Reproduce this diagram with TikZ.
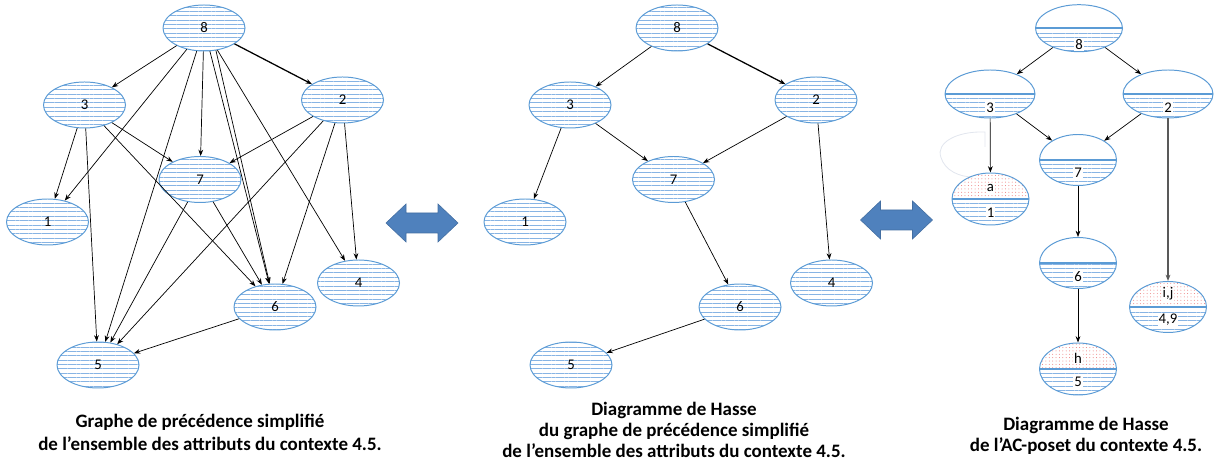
\documentclass[tikz,border=0pt]{standalone}
\usepackage{fontspec}
\setmainfont{Carlito}
\usetikzlibrary{shapes.geometric,arrows.meta,patterns.meta}

\definecolor{attrblue}{RGB}{91,155,213}
\definecolor{hatchblue}{RGB}{135,180,228}
\definecolor{dotred}{RGB}{236,120,120}
\definecolor{arrowblue}{RGB}{79,129,189}
\definecolor{ghostgray}{RGB}{226,230,238}

\tikzset{
  attr/.style={ellipse, draw=attrblue, line width=0.7pt, inner sep=0pt,
    minimum width=2.05cm, minimum height=1.15cm,
    pattern={Lines[angle=0,distance=3.1pt,line width=0.6pt]}, pattern color=hatchblue,
    font=\fontsize{10.5}{12}\selectfont},
  noobj/.style={fill=white},
  objdots/.style={pattern={Dots[distance=2.4pt,radius=0.35pt]}, pattern color=dotred},
  concept/.style={ellipse, draw=attrblue, line width=0.7pt, inner sep=0pt,
    minimum width=1.925cm, minimum height=1.275cm,
    path picture={
      \fill[#1] (path picture bounding box.north west) rectangle (path picture bounding box.east);
      \fill[pattern={Lines[angle=0,distance=3.1pt,line width=0.6pt]}, pattern color=hatchblue]
        (path picture bounding box.west) rectangle (path picture bounding box.south east);
      \draw[attrblue, line width=1.3pt] (path picture bounding box.west) -- (path picture bounding box.east);
    }},
  concept/.default=noobj,
  intent/.style={fill=white, inner sep=0.8pt, font=\fontsize{10.5}{12}\selectfont},
  prec/.style={-{Stealth[length=4.5pt,width=3.4pt]}, line width=0.5pt},
  bigarrow/.style={fill=arrowblue, draw=arrowblue!85!black, line width=0.4pt},
  legend/.style={font=\fontsize{13.5}{15}\selectfont\bfseries, align=center},
}

\begin{document}
\begin{tikzpicture}
\useasboundingbox (0,0) rectangle (30.425,11.725);

%%%%%%%%%%%%%%%%%Graphe de precedence%%%%%%%%%%%%%%
\node[attr] (l8) at (5.1,11.025){8};
\node[attr] (l3) at (2.1125,9.1){3};
\node[attr] (l2) at (8.5625,9.225){2};
\node[attr] (l7) at (5.0,7.2375){7};
\node[attr] (l1) at (1.1875,6.175){1};
\node[attr] (l4) at (8.9625,4.65){4};
\node[attr] (l6) at (6.875,4.05){6};
\node[attr] (l5) at (2.45,2.6){5};

\draw[prec] (l8) -- (l3);
\draw[prec] (l8) -- (l1);
\draw[prec] (l8) -- (l5);
\draw[prec] (l8) -- (l7);
\draw[prec] (l8) -- (l6);
\draw[prec] (l8.-62) -- (l6.103);
\draw[prec] (l8) -- (l4);
\draw[prec, line width=0.9pt] (l8) -- (l2);
\draw[prec] (l3) -- (l1);
\draw[prec] (l3) -- (l5);
\draw[prec] (l3) -- (l7);
\draw[prec] (l3) -- (l6);
\draw[prec] (l2) -- (l7);
\draw[prec] (l2) -- (l5);
\draw[prec] (l2) -- (l6);
\draw[prec] (l2) -- (l4);
\draw[prec] (l7) -- (l5);
\draw[prec] (l7) -- (l6);
\draw[prec] (l6) -- (l5);

\node[legend] (capl1) at (5.0,1.175){Graphe de précédence simplifié};
\node[legend] (capl2) at (5.25,0.625){de l’ensemble des attributs du contexte 4.5.};

%Double arrow
\draw[bigarrow] (9.65,6.15) -- (10.15,6.625) -- (10.15,6.4) -- (10.95,6.4) -- (10.95,6.625)
  -- (11.45,6.15) -- (10.95,5.675) -- (10.95,5.9) -- (10.15,5.9) -- (10.15,5.675) -- cycle;

%%%%%%%%%%%%%%%%%Diagramme de Hasse%%%%%%%%%%%%%%
\node[attr] (m8) at (16.925,11.025){8};
\node[attr] (m3) at (14.25,9.1){3};
\node[attr] (m2) at (20.4,9.225){2};
\node[attr] (m7) at (16.8375,7.2375){7};
\node[attr] (m1) at (13.125,6.175){1};
\node[attr] (m4) at (20.7875,4.65){4};
\node[attr] (m6) at (18.5,4.05){6};
\node[attr] (m5) at (14.275,2.6){5};

\draw[prec] (m8) -- (m3);
\draw[prec, line width=0.9pt] (m8) -- (m2);
\draw[prec] (m3) -- (m1);
\draw[prec] (m3) -- (m7);
\draw[prec] (m2) -- (m7);
\draw[prec] (m2) -- (m4);
\draw[prec] (m7) -- (m6);
\draw[prec] (m6) -- (m5);

\node[legend] (capm) at (16.85,0.975){Diagramme de Hasse\\du graphe de précédence simplifié\\de l’ensemble des attributs du contexte 4.5.};

%Double arrow
\draw[bigarrow, shift={(11.8625,0.075)}] (9.65,6.15) -- (10.15,6.625) -- (10.15,6.4) -- (10.95,6.4) -- (10.95,6.625)
  -- (11.45,6.15) -- (10.95,5.675) -- (10.95,5.9) -- (10.15,5.9) -- (10.15,5.675) -- cycle;

%%%%%%%%%%%%%%%%%AC-poset%%%%%%%%%%%%%%
%faint leftover curve
\draw[ghostgray, line width=0.6pt] (24.625,8.05) -- (24.625,8.425)
  .. controls (23.9,8.45) and (23.4,8.15) .. (23.52,7.8)
  .. controls (23.62,7.45) and (24.0,7.3) .. (24.325,7.3);

\node[concept, minimum width=2.175cm, minimum height=1.175cm] (r8) at (26.975,11.02){};
\node[concept, minimum width=2.25cm, minimum height=1.2cm] (r3) at (24.75,9.375){};
\node[concept, minimum width=2.25cm, minimum height=1.2cm] (r2) at (29.2,9.375){};
\node[concept] (r7) at (26.95,7.725){};
\node[concept=objdots, minimum height=1.3cm] (r1) at (24.7625,6.75){};
\node[concept] (r6) at (26.95,5.15){};
\node[concept=objdots] (r49) at (29.2,4.05){};
\node[concept=objdots, minimum height=1.3cm] (r5) at (26.95,2.5){};

\node[intent] (r8i) at ([yshift=-0.42cm]r8.center){8};
\node[intent] (r3i) at ([yshift=-0.35cm]r3.center){3};
\node[intent] (r2i) at ([yshift=-0.35cm]r2.center){2};
\node[intent] (r7i) at ([yshift=-0.325cm]r7.center){7};
\node[intent] (r1e) at ([yshift=0.275cm]r1.center){a};
\node[intent] (r1i) at ([yshift=-0.35cm]r1.center){1};
\node[intent] (r6i) at ([yshift=-0.35cm]r6.center){6};
\node[intent] (r49e) at ([yshift=0.325cm]r49.center){i,j};
\node[intent] (r49i) at ([yshift=-0.325cm]r49.center){4,9};
\node[intent] (r5e) at ([yshift=0.275cm]r5.center){h};
\node[intent] (r5i) at ([yshift=-0.325cm]r5.center){5};

\draw[prec] (r8) -- (r3);
\draw[prec] (r8) -- (r2);
\draw[prec] (r3) -- (r1);
\draw[prec] (r3) -- (r7);
\draw[prec] (r2) -- (r7);
\draw[prec, draw=black!65, line width=0.9pt] (r2) -- (r49);
\draw[prec] (r7) -- (r6);
\draw[prec] (r6) -- (r5);

\node[legend] (capr) at (27.15,0.825){Diagramme de Hasse\\de l’AC-poset du contexte 4.5.};

\end{tikzpicture}
\end{document}
